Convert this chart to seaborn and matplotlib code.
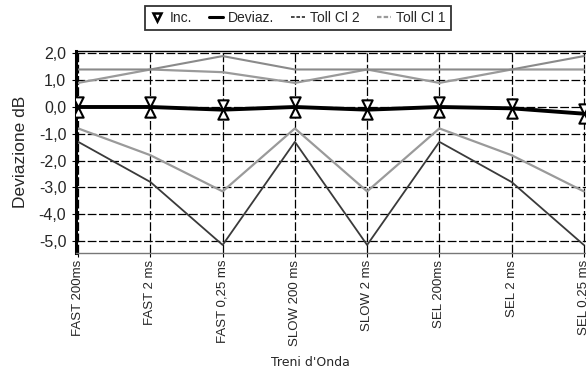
import matplotlib
matplotlib.use("Agg")
import matplotlib.pyplot as plt
import seaborn as sns
import pandas as pd
import numpy as np
from matplotlib.lines import Line2D

# Toneburst test points
categories = ["FAST 200ms", "FAST 2 ms", "FAST 0,25 ms", "SLOW 200 ms",
              "SLOW 2 ms", "SEL 200ms", "SEL 2 ms", "SEL 0,25 ms"]

# Measured deviation and its uncertainty (dB)
deviaz = [0.0, 0.0, -0.1, 0.0, -0.1, 0.0, -0.05, -0.25]
inc = [0.17, 0.17, 0.17, 0.17, 0.17, 0.17, 0.17, 0.17]

# Tolerance limits, class 2 and class 1 (dB)
toll_cl2_sup = [1.4, 1.4, 1.9, 1.4, 1.4, 1.4, 1.4, 1.9]
toll_cl2_inf = [-1.3, -2.8, -5.15, -1.3, -5.15, -1.3, -2.8, -5.15]
toll_cl1_sup = [0.9, 1.4, 1.3, 0.9, 1.4, 0.9, 1.4, 1.4]
toll_cl1_inf = [-0.8, -1.8, -3.15, -0.8, -3.15, -0.8, -1.8, -3.15]

ytick_values = [2, 1, 0, -1, -2, -3, -4, -5]
ytick_labels = ["2,0", "1,0", "0,0", "-1,0", "-2,0", "-3,0", "-4,0", "-5,0"]

sns.set_style("ticks")
plt.rcParams["font.family"] = ["Liberation Sans", "DejaVu Sans"]

pos = np.arange(len(categories))
df = pd.DataFrame({
    "pos": pos,
    "deviaz": deviaz,
    "inc_sup": np.array(deviaz) + np.array(inc),
    "inc_inf": np.array(deviaz) - np.array(inc),
    "cl2_sup": toll_cl2_sup,
    "cl2_inf": toll_cl2_inf,
    "cl1_sup": toll_cl1_sup,
    "cl1_inf": toll_cl1_inf,
})

fig = plt.figure(figsize=(5.86, 3.72), dpi=100)
ax = fig.add_axes([76 / 586, 119 / 372, 510 / 586, 202 / 372])

cl2_style = dict(color="#3a3a3a", linewidth=1.3)
cl1_style = dict(color="#9a9a9a", linewidth=1.6)

sns.lineplot(data=df, x="pos", y="cl1_sup", ax=ax, **cl1_style)
sns.lineplot(data=df, x="pos", y="cl1_inf", ax=ax, **cl1_style)
sns.lineplot(data=df, x="pos", y="cl2_sup", ax=ax, color="#8a8a8a", linewidth=1.5)
sns.lineplot(data=df, x="pos", y="cl2_inf", ax=ax, **cl2_style)
sns.lineplot(data=df, x="pos", y="deviaz", ax=ax, color="black", linewidth=2.8)

# Uncertainty drawn as an hourglass around each deviation point
sns.scatterplot(data=df, x="pos", y="inc_sup", ax=ax, marker="v", s=55,
                color="white", edgecolor="black", linewidth=1.5, zorder=5)
sns.scatterplot(data=df, x="pos", y="inc_inf", ax=ax, marker="^", s=55,
                color="white", edgecolor="black", linewidth=1.5, zorder=5)

ax.set_xlim(-0.03, 7.03)
ax.set_ylim(-5.45, 2.09)
ax.set_xticks(pos)
ax.set_xticklabels(categories, rotation=90, fontsize=9.5)
ax.set_yticks(ytick_values)
ax.set_yticklabels(ytick_labels, fontsize=11.5)
ax.tick_params(axis="both", direction="out", length=3, width=0.8, pad=2, color="black")
ax.tick_params(axis="y", pad=4)

ax.grid(True, color="black", linestyle=(0, (7, 2)), linewidth=0.9)
ax.set_axisbelow(True)

ax.spines["right"].set_visible(False)
ax.spines["left"].set_linewidth(2.2)
ax.spines["left"].set_color("black")
ax.spines["top"].set_linewidth(1.0)
ax.spines["top"].set_color("black")
ax.spines["bottom"].set_linewidth(1.0)
ax.spines["bottom"].set_color("#777777")

ax.set_ylabel("Deviazione dB", fontsize=12.5)
ax.yaxis.set_label_coords(-0.094, 0.5)
ax.set_xlabel("Treni d'Onda", fontsize=9, family="DejaVu Sans")
ax.xaxis.set_label_coords(0.46, -0.51)

handles = [
    Line2D([], [], marker="v", linestyle="none", markerfacecolor="white",
           markeredgecolor="black", markersize=6, markeredgewidth=1.8),
    Line2D([], [], color="black", linewidth=2.2),
    Line2D([], [], color="#3a3a3a", linewidth=1.3, linestyle=(0, (2, 1))),
    Line2D([], [], color="#9a9a9a", linewidth=1.6, linestyle=(0, (2, 1))),
]
labels = ["Inc.", "Deviaz.", "Toll Cl 2", "Toll Cl 1"]
leg = fig.legend(handles, labels, ncol=4, loc="center",
                 bbox_to_anchor=(298 / 586, 1 - 18 / 372), fontsize=10,
                 frameon=True, fancybox=False, handlelength=1.0,
                 handletextpad=0.4, columnspacing=1.2, borderpad=0.35)
leg.get_frame().set_edgecolor("black")
leg.get_frame().set_linewidth(1.3)

fig.savefig("out.png", dpi=100)
